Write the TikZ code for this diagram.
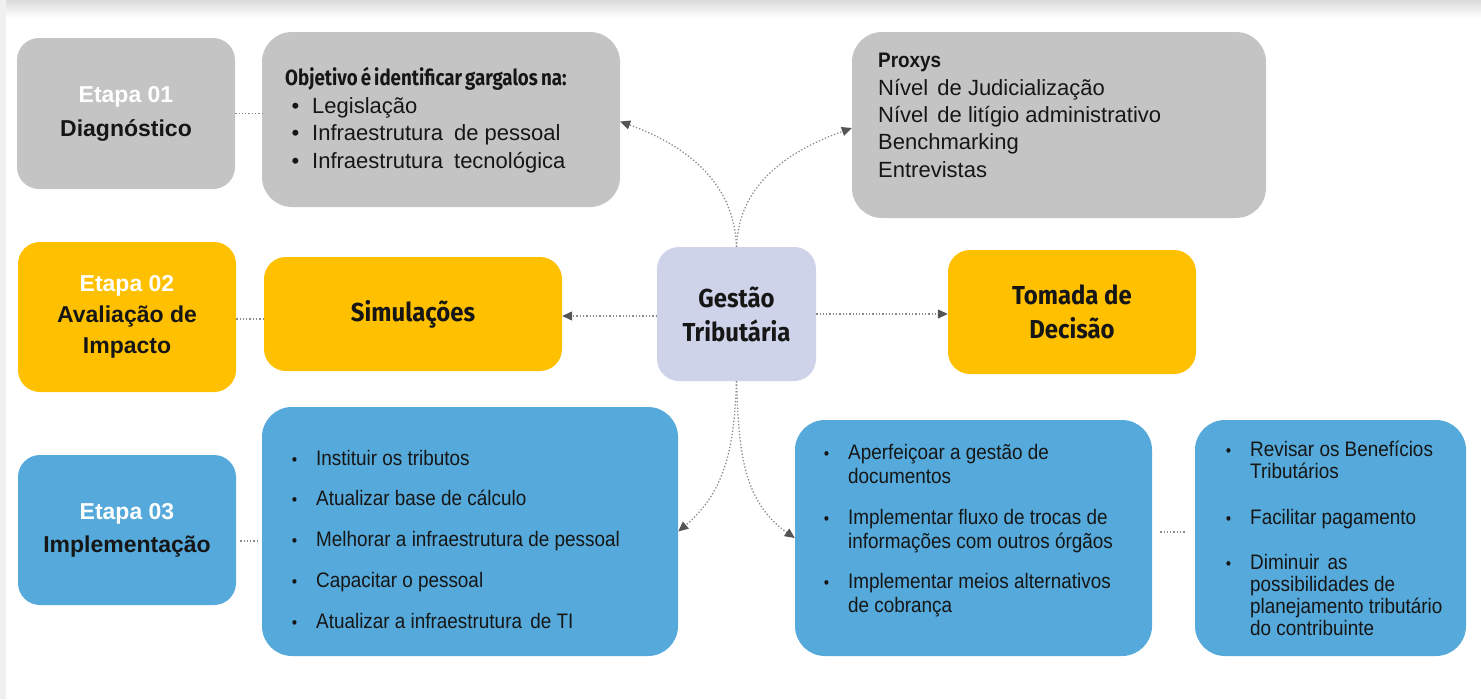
\documentclass[tikz,border=0pt]{standalone}
\usepackage{fontspec}
\setmainfont{Liberation Sans}
\newfontfamily\narrowf[FakeStretch=0.9]{Liberation Sans}
\newfontfamily\condf[FakeStretch=0.92]{Fira Sans}
\newfontfamily\headf[FakeStretch=0.85,WordSpace=0.7]{Fira Sans}
\usetikzlibrary{arrows.meta}
\definecolor{boxgrey}{HTML}{C4C4C4}
\definecolor{boxyellow}{HTML}{FFC000}
\definecolor{boxblue}{HTML}{55AADB}
\definecolor{boxlav}{HTML}{CED3E9}
\definecolor{txt}{HTML}{161616}
\definecolor{linegrey}{HTML}{8A8A8A}
\definecolor{tipgrey}{HTML}{555555}
\tikzset{
  box/.style={rounded corners=22pt, inner sep=0pt, text=txt, align=center},
  bigbox/.style={rounded corners=30pt, inner sep=0pt},
  etapa/.style={box, font=\bfseries\fontsize{23}{31}\selectfont},
  title/.style={box, font=\condf\bfseries\fontsize{26}{34}\selectfont},
  ln/.style={anchor=base west, inner sep=0pt, text=txt},
  conn/.style={draw=linegrey, dotted, line width=1.3pt},
  arr/.style={conn, -{Triangle[length=10pt,width=9pt,color=tipgrey]}},
  bul/.style={ln, font=\narrowf\fontsize{21}{21}\selectfont},
}
\newcommand{\blt}{\llap{{\fontsize{17}{17}\selectfont •}\hspace{19pt}}}
\newcommand{\bltg}{\llap{•\hspace{13pt}}}
\begin{document}
\begin{tikzpicture}[x=1pt,y=-1pt]
\useasboundingbox (0,0) rectangle (1481,699);
\shade[top color=black!14,bottom color=white] (0,0) rectangle (1481,18);
\fill[black!6] (0,0) rectangle (6,699);

% Row 1
\node[etapa, fill=boxgrey, minimum width=218, minimum height=151] (e1) at (126,113.5)
  {\textcolor{white}{Etapa 01}\\[-1pt]\raisebox{-4pt}{Diagnóstico}};
\node[bigbox, fill=boxgrey, minimum width=358, minimum height=175] (obj) at (441,119.5) {};
\node[bigbox, fill=boxgrey, minimum width=414, minimum height=186] (prox) at (1059,125) {};

\node[ln, font=\headf\bfseries\fontsize{22}{22}\selectfont] (objh) at (285,85) {Objetivo é identificar gargalos na:};
\node[ln, font=\fontsize{22}{22}\selectfont] (ob1) at (312,113) {\bltg Legislação};
\node[ln, font=\fontsize{22}{22}\selectfont] (ob2) at (312,140) {\bltg Infraestrutura\hspace{5pt} de pessoal};
\node[ln, font=\fontsize{22}{22}\selectfont] (ob3) at (312,168) {\bltg Infraestrutura\hspace{5pt} tecnológica};

\node[ln, font=\narrowf\bfseries\fontsize{21}{21}\selectfont] (ph) at (878,67) {Proxys};
\node[ln, font=\fontsize{22}{22}\selectfont] (p1) at (878,95) {Nível\hspace{3pt} de Judicialização};
\node[ln, font=\fontsize{22}{22}\selectfont] (p2) at (878,122) {Nível\hspace{3pt} de litígio administrativo};
\node[ln, font=\fontsize{22}{22}\selectfont] (p3) at (878,149) {Benchmarking};
\node[ln, font=\fontsize{22}{22}\selectfont] (p4) at (878,177) {Entrevistas};

% Row 2
\node[etapa, fill=boxyellow, minimum width=218, minimum height=150] (e2) at (127,317)
  {\textcolor{white}{Etapa 02}\\Avaliação de\\Impacto};
\node[title, fill=boxyellow, minimum width=298, minimum height=114] (sim) at (413,314) {Simulações};
\node[title, fill=boxlav, minimum width=159, minimum height=134] (g) at (736.5,314) {Gestão\\Tributária};
\node[title, fill=boxyellow, minimum width=248, minimum height=124] (tom) at (1072,312) {Tomada de\\Decisão};

% Row 3
\node[etapa, fill=boxblue, minimum width=218, minimum height=150] (e3) at (127,530)
  {\textcolor{white}{Etapa 03}\\\raisebox{-2pt}{Implementação}};
\node[bigbox, fill=boxblue, minimum width=416, minimum height=249] (impl) at (470,531.5) {};
\node[bigbox, fill=boxblue, minimum width=357, minimum height=236] (mid) at (973.5,538) {};
\node[bigbox, fill=boxblue, minimum width=271, minimum height=236] (rgt) at (1330.5,538) {};

\node[bul] (i1) at (316,465) {\blt Instituir os tributos};
\node[bul] (i2) at (316,505) {\blt Atualizar base de cálculo};
\node[bul] (i3) at (316,546) {\blt Melhorar a infraestrutura de pessoal};
\node[bul] (i4) at (316,587) {\blt Capacitar o pessoal};
\node[bul] (i5) at (316,628) {\blt Atualizar a infraestrutura\hspace{3pt} de TI};

\node[bul] (m1) at (848,459) {\blt Aperfeiçoar a gestão de};
\node[bul] (m1b) at (848,483) {documentos};
\node[bul] (m2) at (848,524) {\blt Implementar fluxo de trocas de};
\node[bul] (m2b) at (848,548) {informações com outros órgãos};
\node[bul] (m3) at (848,588) {\blt Implementar meios alternativos};
\node[bul] (m3b) at (848,612) {de cobrança};

\node[bul] (r1) at (1250,456) {\blt Revisar os Benefícios};
\node[bul] (r1b) at (1250,478) {Tributários};
\node[bul] (r2) at (1250,524) {\blt Facilitar pagamento};
\node[bul] (r3) at (1250,569) {\blt Diminuir\hspace{3pt} as};
\node[bul] (r3b) at (1250,591) {possibilidades de};
\node[bul] (r3c) at (1250,613) {planejamento tributário};
\node[bul] (r3d) at (1250,635) {do contribuinte};

% Connectors
\draw[conn] (e1.east) -- (e1.east -| obj.west);
\draw[conn] ([yshift=-2pt]e2.east) -- ([yshift=-2pt]e2.east -| sim.west);
\draw[conn] ([xshift=4pt,yshift=-11pt]e3.east) -- ([xshift=-4pt,yshift=-11pt]e3.east -| impl.west);
\draw[conn] ([xshift=8pt,yshift=6pt]mid.east) -- ([xshift=-10pt,yshift=6pt]mid.east -| rgt.west);

\draw[arr] ([yshift=-2pt]g.west) -- ([yshift=-2pt]g.west -| sim.east);
\draw[arr] (g.east) -- (g.east -| tom.west);
\draw[arr] (g.north) to[out=92,in=-20] ([yshift=-2pt]obj.east);
\draw[arr] (g.north) to[out=88,in=200] ([yshift=-3pt]prox.west);
\draw[arr] (g.south) to[out=-92,in=40] (impl.east);
\draw[arr] (g.south) to[out=-88,in=145] (mid.west);
\end{tikzpicture}
\end{document}
